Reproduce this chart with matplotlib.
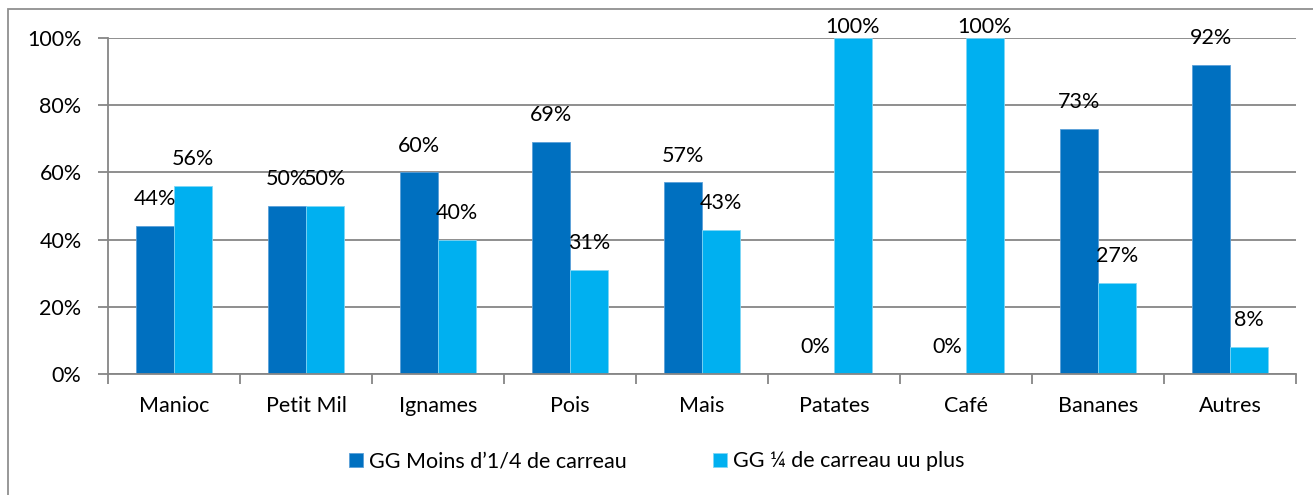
import matplotlib
matplotlib.use("Agg")
import matplotlib.pyplot as plt
from matplotlib.patches import Rectangle
import numpy as np

plt.rcParams['font.family'] = ['Lato', 'DejaVu Sans']

categories = ["Manioc", "Petit Mil", "Ignames", "Pois", "Mais", "Patates", "Café", "Bananes", "Autres"]
moins_quart = [44, 50, 60, 69, 57, 0, 0, 73, 92]
quart_plus = [56, 50, 40, 31, 43, 100, 100, 27, 8]
series_names = ["GG Moins d\u20191/4 de carreau", "GG \u00bc de carreau uu plus"]
y_ticks = [0, 20, 40, 60, 80, 100]

dark = "#0070C0"
light = "#00B0F0"
grid_col = "#868686"
fs = 15.5

W, H = 1313, 495
fig = plt.figure(figsize=(W / 100, H / 100), dpi=100)

# outer chart frame (left and top edges visible)
fig.patches.append(Rectangle((8 / W, -0.1), 1.2, (495 - 9) / H + 0.1,
                             transform=fig.transFigure, fill=False,
                             edgecolor="#909090", linewidth=1.3))

ax = fig.add_axes([108 / W, (H - 374) / H, (1296 - 108) / W, (374 - 38) / H])

x = np.arange(len(categories))
bw = 0.285
b1 = ax.bar(x - bw / 2, moins_quart, bw, color=dark, edgecolor="#5aa0d8", linewidth=0.6, zorder=2)
b2 = ax.bar(x + bw / 2, quart_plus, bw, color=light, edgecolor="#7fd6f5", linewidth=0.6, zorder=2)

ax.set_xlim(-0.5, len(categories) - 0.5)
ax.set_ylim(0, 100)
ax.set_yticks(y_ticks)
ax.set_yticklabels([f"{t}%" for t in y_ticks])
ax.yaxis.grid(True, color=grid_col, linewidth=1.3, zorder=0)
ax.set_axisbelow(True)

for s in ["top", "right"]:
    ax.spines[s].set_visible(False)
for s in ["left", "bottom"]:
    ax.spines[s].set_color(grid_col)
    ax.spines[s].set_linewidth(1.3)

ax.tick_params(axis="y", length=7, width=1.3, color=grid_col, labelsize=fs, pad=12)
ax.set_xticks(x)
ax.set_xticklabels(categories, fontsize=fs)
ax.tick_params(axis="x", length=0, pad=16)
ax.set_xticks(np.arange(len(categories) + 1) - 0.5, minor=True)
ax.tick_params(axis="x", which="minor", length=7, width=1.3, color=grid_col)

# value labels above each bar, kept inside the plot top
for bars, vals, dx in [(b1, moins_quart, -bw / 2), (b2, quart_plus, bw / 2)]:
    for xi, v in zip(x, vals):
        y = min(v + 8, 103.3)
        ax.text(xi + dx, y, f"{v}%", ha="center", va="center", fontsize=fs,
                color="black", zorder=3, clip_on=False)

ax.legend([b1, b2], series_names, loc="center", bbox_to_anchor=(0.462, -0.26),
          ncol=2, frameon=False, fontsize=fs, handlelength=0.65, handleheight=0.65,
          handletextpad=0.3, columnspacing=4.0)

fig.savefig("out.png", dpi=100)
